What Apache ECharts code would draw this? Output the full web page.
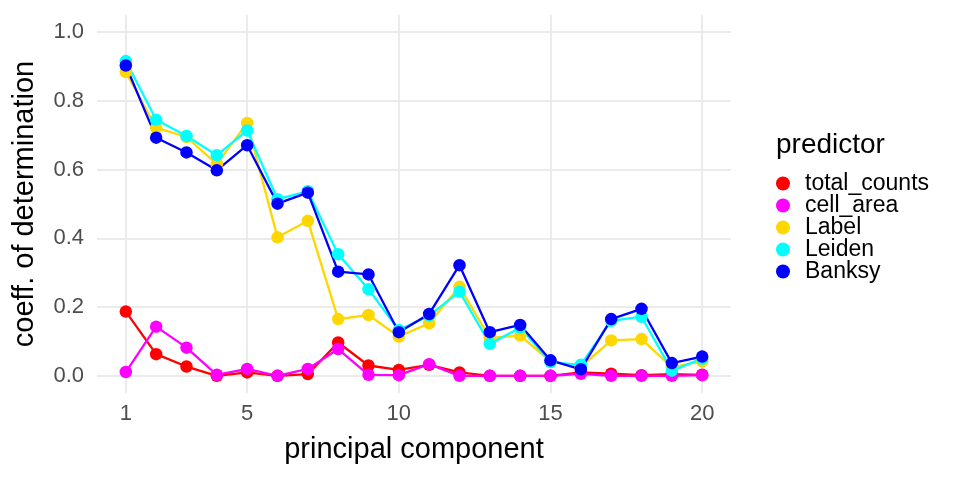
<!DOCTYPE html>
<html><head><meta charset="utf-8">
<script src="https://cdn.jsdelivr.net/npm/echarts@6/dist/echarts.min.js"></script>
<style>html,body{margin:0;padding:0;background:#fff}#c{width:960px;height:480px}</style>
</head><body><div id="c"></div>
<script>
const pcs = [1,2,3,4,5,6,7,8,9,10,11,12,13,14,15,16,17,18,19,20];
const total_counts = [0.187,0.063,0.027,0.000,0.010,0.000,0.005,0.097,0.030,0.017,0.032,0.010,0.000,0.000,0.000,0.010,0.006,0.002,0.005,0.003];
const cell_area    = [0.011,0.143,0.082,0.003,0.020,0.000,0.020,0.078,0.003,0.002,0.034,0.000,0.000,0.000,0.000,0.006,0.000,0.000,0.000,0.002];
const label        = [0.884,0.722,0.695,0.616,0.736,0.403,0.451,0.165,0.177,0.114,0.153,0.259,0.110,0.117,0.042,0.025,0.103,0.107,0.025,0.042];
const leiden       = [0.916,0.745,0.698,0.642,0.714,0.514,0.537,0.354,0.252,0.133,0.175,0.245,0.093,0.140,0.040,0.032,0.160,0.172,0.015,0.050];
const banksy       = [0.903,0.693,0.650,0.598,0.671,0.501,0.533,0.303,0.295,0.127,0.180,0.322,0.127,0.148,0.045,0.019,0.165,0.195,0.037,0.056];
const names  = ['total_counts','cell_area','Label','Leiden','Banksy'];
const values = [total_counts, cell_area, label, leiden, banksy];
const colors = ['#FF0000','#FF00FF','#FFD700','#00FFFF','#0000FF'];
const xTicks = [1,5,10,15,20];
const yTicks = [0,0.2,0.4,0.6,0.8,1.0];

const FONT = 'Liberation Sans';
const series = [];
names.forEach((n,i)=>{
  series.push({name:n,type:'line',data:pcs.map((p,j)=>[p,values[i][j]]),showSymbol:false,
    lineStyle:{width:2.3,color:colors[i]},itemStyle:{color:colors[i]},z:2,animation:false});
});
names.forEach((n,i)=>{
  series.push({name:n,type:'scatter',data:pcs.map((p,j)=>[p,values[i][j]]),symbolSize:12.5,
    itemStyle:{color:colors[i],opacity:1},z:3,animation:false});
});
const chart = echarts.init(document.getElementById('c'),null,{renderer:'canvas'});
chart.setOption({
  backgroundColor:'#fff',
  animation:false,
  textStyle:{fontFamily:FONT},
  title:{text:'predictor',left:771,top:126,textStyle:{fontFamily:FONT,fontSize:28,fontWeight:'normal',color:'#000'}},
  legend:{orient:'vertical',left:771,top:167,itemWidth:14,itemHeight:14,itemGap:-1,
    data:names.map(n=>({name:n,icon:'circle'})),
    textStyle:{fontFamily:FONT,fontSize:23,color:'#000',padding:[0,0,0,10]}},
  grid:{left:97,right:229,top:15,bottom:87,containLabel:false},
  xAxis:{type:'value',min:0.05,max:20.95,name:'principal component',nameLocation:'middle',nameGap:42,
    nameTextStyle:{fontFamily:FONT,fontSize:29,color:'#000'},
    axisLine:{show:false},axisTick:{show:false,customValues:xTicks},
    axisLabel:{customValues:xTicks,fontFamily:FONT,fontSize:22,color:'#4D4D4D',margin:10},
    splitLine:{show:true,lineStyle:{color:'#EBEBEB',width:2}}},
  yAxis:{type:'value',min:-0.05,max:1.05,name:'coeff. of determination',nameLocation:'middle',nameGap:58,
    nameTextStyle:{fontFamily:FONT,fontSize:29,color:'#000'},
    axisLine:{show:false},axisTick:{show:false,customValues:yTicks},
    axisLabel:{customValues:yTicks,formatter:v=>v.toFixed(1),fontFamily:FONT,fontSize:22,color:'#4D4D4D',margin:13},
    splitLine:{show:true,lineStyle:{color:'#EBEBEB',width:2}}},
  series:series
});
</script></body></html>
